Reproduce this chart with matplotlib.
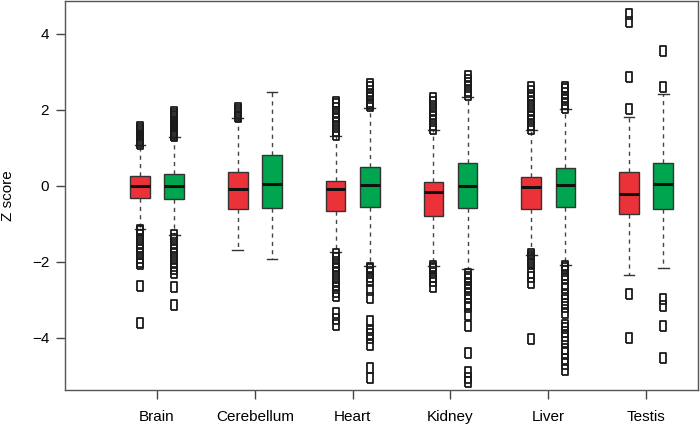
import matplotlib.pyplot as plt
import numpy as np

# tissues and box statistics (red = first group, green = second)
tissues = ['Brain', 'Cerebellum', 'Heart', 'Kidney', 'Liver', 'Testis']

red_q1 = [-0.32, -0.60, -0.65, -0.78, -0.61, -0.75]
red_med = [0.00, -0.08, -0.09, -0.16, -0.03, -0.22]
red_q3 = [0.26, 0.36, 0.14, 0.11, 0.23, 0.36]
red_lo = [-1.13, -1.70, -1.75, -2.12, -1.82, -2.34]
red_hi = [1.07, 1.79, 1.32, 1.47, 1.46, 1.82]
red_fliers = [
    [1.1, 1.15, 1.2, 1.25, 1.3, 1.35, 1.4, 1.45, 1.5, 1.55,
     -1.15, -1.2, -1.3, -1.4, -1.5, -1.6, -1.7, -1.8, -1.9, -2.0, -2.05, -2.63, -3.6],
    [1.8, 1.85, 1.9, 1.95, 2.0, 2.05],
    [1.35, 1.45, 1.55, 1.65, 1.75, 1.85, 1.95, 2.05, 2.15, 2.2,
     -1.8, -1.9, -2.0, -2.1, -2.2, -2.3, -2.4, -2.5, -2.6, -2.7, -2.8, -2.9,
     -3.35, -3.5, -3.65],
    [1.5, 1.6, 1.7, 1.8, 1.9, 2.0, 2.1, 2.2, 2.3,
     -2.1, -2.15, -2.2, -2.3, -2.4, -2.5, -2.65],
    [1.5, 1.6, 1.7, 1.8, 1.9, 2.0, 2.1, 2.2, 2.3, 2.4, 2.5, 2.6,
     -1.78, -1.85, -1.9, -1.95, -2.0, -2.05, -2.3, -2.4, -2.55, -4.03],
    [2.02, 2.87, 4.32, 4.53, -2.84, -4.0],
]

green_q1 = [-0.34, -0.57, -0.56, -0.59, -0.56, -0.62]
green_med = [0.00, 0.04, 0.03, 0.01, 0.02, 0.06]
green_q3 = [0.32, 0.81, 0.49, 0.60, 0.46, 0.61]
green_lo = [-1.28, -1.92, -2.11, -2.18, -2.08, -2.15]
green_hi = [1.28, 2.46, 2.05, 2.35, 2.02, 2.43]
green_fliers = [
    [1.3, 1.35, 1.4, 1.45, 1.5, 1.55, 1.6, 1.65, 1.7, 1.75, 1.8, 1.85, 1.9, 1.95,
     -1.3, -1.4, -1.5, -1.6, -1.7, -1.8, -1.9, -2.0, -2.1, -2.2, -2.3, -2.67, -3.13],
    [],
    [2.1, 2.15, 2.2, 2.3, 2.4, 2.5, 2.6, 2.67,
     -2.15, -2.2, -2.3, -2.4, -2.5, -2.75, -2.95,
     -3.55, -3.8, -3.9, -4.0, -4.2, -4.8, -5.05],
    [2.4, 2.5, 2.6, 2.7, 2.8, 2.9,
     -2.32, -2.4, -2.45, -2.55, -2.65, -2.75, -2.85, -2.95, -3.1, -3.2, -3.4, -3.7,
     -4.4, -4.9, -5.05, -5.15],
    [2.05, 2.15, 2.25, 2.35, 2.45, 2.55, 2.6,
     -2.1, -2.15, -2.25, -2.35, -2.45, -2.6, -2.7, -2.85,
     -3.0, -3.1, -3.2, -3.35, -3.65, -3.75, -3.85, -3.95, -4.1,
     -4.3, -4.4, -4.55, -4.7, -4.85],
    [2.61, 3.55, -2.97, -3.16, -3.69, -4.53],
]

red_col = '#EC3239'
green_col = '#00A54F'


def make_stats(q1, med, q3, lo, hi, fl):
    return [dict(q1=a, med=b, q3=c, whislo=d, whishi=e, fliers=f)
            for a, b, c, d, e, f in zip(q1, med, q3, lo, hi, fl)]


# narrow, tall open rectangle like the squashed R squares
rect = [(-0.25, -0.5), (0.25, -0.5), (0.25, 0.5), (-0.25, 0.5), (-0.25, -0.5)]

fig = plt.figure(figsize=(7, 4.28), dpi=100)
ax = fig.add_axes([0.093, 0.089, 0.904, 0.909])
plt.rcParams['font.family'] = ['Liberation Sans', 'DejaVu Sans']

pos = np.arange(1, len(tissues) + 1)
for stats, col, off in [
    (make_stats(red_q1, red_med, red_q3, red_lo, red_hi, red_fliers), red_col, -0.175),
    (make_stats(green_q1, green_med, green_q3, green_lo, green_hi, green_fliers), green_col, 0.175),
]:
    ax.bxp(stats, positions=pos + off, widths=0.2, patch_artist=True,
           capwidths=0.11, manage_ticks=False,
           boxprops=dict(facecolor=col, edgecolor='#333333', linewidth=1),
           medianprops=dict(color='#111111', linewidth=2.2),
           whiskerprops=dict(color='#444444', linestyle=(0, (3, 3)), linewidth=1),
           capprops=dict(color='#333333', linewidth=1),
           flierprops=dict(marker=rect, markersize=7.5, markerfacecolor='none',
                           markeredgecolor='#1a1a1a', markeredgewidth=1.3,
                           linestyle='none'))

ax.set_xlim(0.06, 6.53)
ax.set_ylim(-5.37, 4.87)
ax.set_xticks(pos)
ax.set_xticklabels(tissues, fontsize=11, family='Liberation Sans')
ax.set_yticks([-4, -2, 0, 2, 4])
ax.set_yticklabels(['\u22124', '\u22122', '0', '2', '4'], fontsize=11, family='Liberation Sans')
ax.tick_params(axis='x', length=6.5, width=1, color='#444444', pad=8)
ax.tick_params(axis='y', length=6.5, width=1, color='#444444', pad=5)
ax.set_ylabel('Z score', fontsize=11, family='Liberation Sans', labelpad=12)
for s in ax.spines.values():
    s.set_color('#555555')
    s.set_linewidth(1)

fig.savefig('out.png', dpi=100)
